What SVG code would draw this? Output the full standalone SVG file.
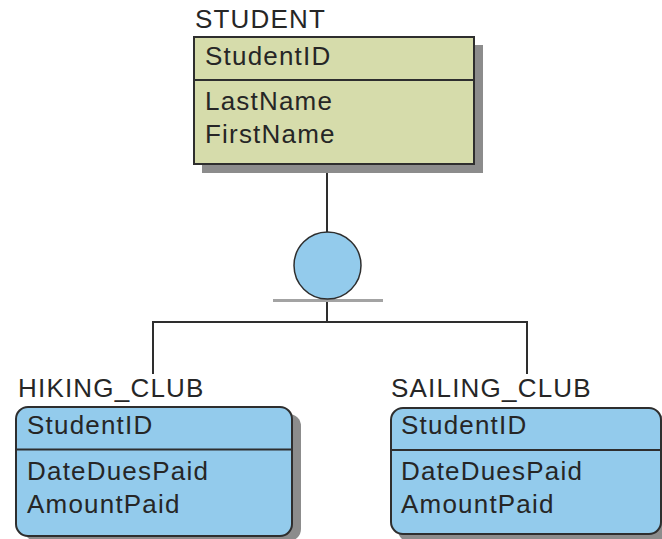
<svg xmlns="http://www.w3.org/2000/svg" width="662" height="539" viewBox="0 0 662 539">
  <style>
    .t { font-family: "Liberation Sans", Arial, sans-serif; font-size: 26px; fill: #262626; letter-spacing: 1.2px; }
    .shadow { fill: #8c8c8c; }
    .box { stroke: #2e2e2e; stroke-width: 2; }
    .super { fill: #d6dcab; }
    .sub { fill: #93cbec; }
    .div { stroke: #2e2e2e; stroke-width: 2; }
    .conn { fill: none; stroke: #2e2e2e; stroke-width: 2; }
  </style>
  <rect width="662" height="539" fill="#ffffff"/>

  <g id="connectors">
    <line class="conn" x1="327" y1="164" x2="327" y2="232"/>
    <line class="conn" x1="327" y1="299" x2="327" y2="322"/>
    <polyline class="conn" points="153,374 153,322 527,322 527,374"/>
    <line x1="273" y1="300.5" x2="383" y2="300.5" stroke="#a3a3a3" stroke-width="3"/>
  </g>

  <g id="subtype-circle">
    <circle cx="327.5" cy="265.5" r="33.5" fill="#93cbec" stroke="#2e2e2e" stroke-width="1.5"/>
  </g>

  <g id="student">
    <text class="t" x="195" y="28">STUDENT</text>
    <rect class="shadow" x="202" y="45" width="281" height="128"/>
    <rect class="box super" x="194" y="37" width="280" height="127"/>
    <line class="div" x1="194" y1="80" x2="474" y2="80"/>
    <text class="t" x="205" y="65">StudentID</text>
    <text class="t" x="205" y="110">LastName</text>
    <text class="t" x="205" y="143">FirstName</text>
  </g>

  <g id="hiking-club">
    <text class="t" x="18" y="397">HIKING_CLUB</text>
    <rect class="shadow" x="24" y="414" width="277" height="127" rx="12"/>
    <rect class="box sub" x="16" y="407" width="276" height="129" rx="12"/>
    <line class="div" x1="16" y1="449.5" x2="292" y2="449.5"/>
    <text class="t" x="27" y="434">StudentID</text>
    <text class="t" x="27" y="480">DateDuesPaid</text>
    <text class="t" x="27" y="513">AmountPaid</text>
  </g>

  <g id="sailing-club">
    <text class="t" x="391" y="397">SAILING_CLUB</text>
    <rect class="shadow" x="398" y="415" width="272" height="127" rx="12"/>
    <rect class="box sub" x="391" y="408" width="270" height="126" rx="12"/>
    <line class="div" x1="391" y1="450" x2="661" y2="450"/>
    <text class="t" x="401" y="434">StudentID</text>
    <text class="t" x="401" y="480">DateDuesPaid</text>
    <text class="t" x="401" y="513">AmountPaid</text>
  </g>
</svg>
